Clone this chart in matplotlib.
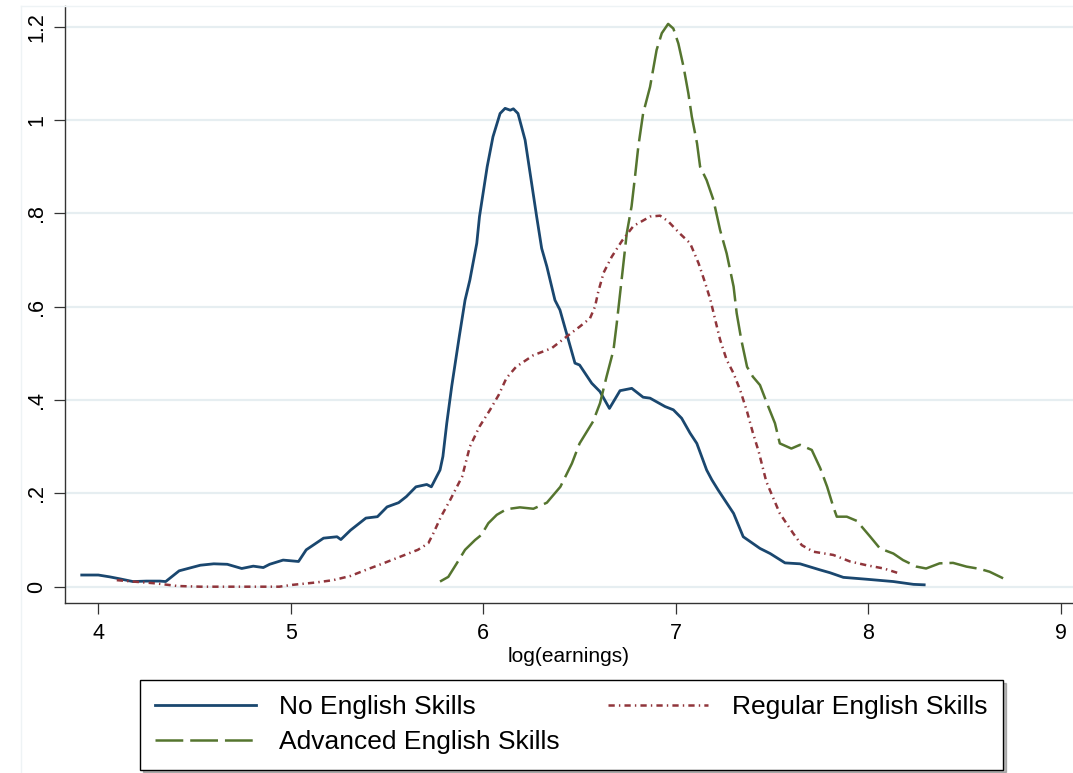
import matplotlib
matplotlib.use("Agg")
import matplotlib.pyplot as plt
from matplotlib.lines import Line2D

plt.rcParams['font.family'] = ['Liberation Sans', 'DejaVu Sans']
plt.rcParams['lines.scale_dashes'] = False

# ---- data ----
no_x = [3.914, 4.00, 4.06, 4.11, 4.18, 4.25, 4.32, 4.35, 4.42, 4.53, 4.60, 4.67, 4.745, 4.805,
        4.857, 4.89, 4.96, 5.04, 5.08, 5.17, 5.24, 5.26, 5.31, 5.39, 5.45, 5.50, 5.56, 5.60,
        5.65, 5.706, 5.73, 5.775, 5.79, 5.81, 5.836, 5.875, 5.905, 5.93, 5.966, 5.98, 6.02,
        6.05, 6.087, 6.113, 6.14, 6.156, 6.18, 6.217, 6.243, 6.277, 6.303, 6.33, 6.372, 6.398,
        6.476, 6.50, 6.563, 6.606, 6.655, 6.71, 6.771, 6.83, 6.866, 6.944, 6.987, 7.03, 7.074,
        7.109, 7.16, 7.187, 7.22, 7.30, 7.35, 7.437, 7.49, 7.567, 7.645, 7.749, 7.80, 7.87,
        7.99, 8.13, 8.234, 8.29]
no_y = [0.025, 0.025, 0.021, 0.017, 0.011, 0.012, 0.012, 0.011, 0.034, 0.046, 0.049, 0.048,
        0.039, 0.044, 0.041, 0.048, 0.057, 0.054, 0.079, 0.104, 0.107, 0.101, 0.121, 0.147,
        0.150, 0.171, 0.180, 0.193, 0.214, 0.219, 0.214, 0.250, 0.279, 0.350, 0.430, 0.536,
        0.614, 0.657, 0.736, 0.793, 0.900, 0.964, 1.014, 1.025, 1.021, 1.024, 1.014, 0.957,
        0.886, 0.793, 0.725, 0.686, 0.614, 0.593, 0.479, 0.475, 0.436, 0.418, 0.382, 0.420,
        0.425, 0.406, 0.404, 0.386, 0.379, 0.361, 0.329, 0.307, 0.250, 0.229, 0.207, 0.157,
        0.107, 0.082, 0.071, 0.051, 0.049, 0.036, 0.030, 0.020, 0.016, 0.011, 0.005, 0.004]

reg_x = [4.096, 4.18, 4.30, 4.41, 4.53, 4.70, 4.94, 5.01, 5.13, 5.22, 5.31, 5.39, 5.48, 5.567,
         5.66, 5.714, 5.74, 5.78, 5.828, 5.89, 5.93, 5.98, 6.035, 6.08, 6.12, 6.17, 6.26, 6.355,
         6.433, 6.50, 6.554, 6.58, 6.597, 6.625, 6.667, 6.72, 6.78, 6.866, 6.918, 6.96, 7.02,
         7.074, 7.118, 7.153, 7.18, 7.205, 7.23, 7.264, 7.30, 7.335, 7.37, 7.40, 7.43, 7.47,
         7.54, 7.61, 7.654, 7.714, 7.818, 7.905, 7.99, 8.08, 8.156]
reg_y = [0.014, 0.011, 0.007, 0.0015, 0.0, 0.0, 0.0, 0.004, 0.009, 0.014, 0.023, 0.036, 0.050,
         0.064, 0.079, 0.093, 0.114, 0.150, 0.186, 0.236, 0.300, 0.343, 0.379, 0.411, 0.447,
         0.471, 0.496, 0.511, 0.536, 0.557, 0.575, 0.600, 0.632, 0.673, 0.707, 0.741, 0.773,
         0.793, 0.795, 0.783, 0.757, 0.736, 0.693, 0.650, 0.614, 0.571, 0.529, 0.486, 0.457,
         0.420, 0.375, 0.330, 0.290, 0.225, 0.157, 0.114, 0.089, 0.075, 0.068, 0.054, 0.046,
         0.039, 0.029]

adv_x = [5.775, 5.818, 5.862, 5.905, 5.957, 5.99, 6.026, 6.07, 6.12, 6.19, 6.26, 6.33, 6.40,
         6.46, 6.50, 6.57, 6.606, 6.64, 6.676, 6.693, 6.72, 6.745, 6.77, 6.788, 6.805, 6.83,
         6.866, 6.90, 6.927, 6.96, 6.987, 7.013, 7.04, 7.065, 7.083, 7.11, 7.126, 7.16, 7.195,
         7.23, 7.264, 7.30, 7.316, 7.34, 7.37, 7.40, 7.437, 7.48, 7.515, 7.54, 7.60, 7.645,
         7.706, 7.75, 7.786, 7.818, 7.836, 7.888, 7.94, 8.01, 8.06, 8.13, 8.18, 8.25, 8.30,
         8.37, 8.44, 8.51, 8.58, 8.63, 8.70]
adv_y = [0.011, 0.021, 0.050, 0.079, 0.100, 0.111, 0.136, 0.154, 0.166, 0.170, 0.167, 0.180,
         0.214, 0.264, 0.307, 0.354, 0.393, 0.450, 0.507, 0.564, 0.664, 0.757, 0.815, 0.879,
         0.943, 1.014, 1.071, 1.150, 1.186, 1.206, 1.196, 1.164, 1.114, 1.057, 1.007, 0.950,
         0.900, 0.871, 0.829, 0.764, 0.714, 0.643, 0.586, 0.529, 0.471, 0.450, 0.432, 0.386,
         0.350, 0.307, 0.296, 0.304, 0.293, 0.254, 0.214, 0.171, 0.150, 0.150, 0.141, 0.107,
         0.082, 0.071, 0.057, 0.043, 0.039, 0.050, 0.051, 0.043, 0.038, 0.032, 0.018]

x_ticks = [4, 5, 6, 7, 8, 9]
y_ticks = [0, 0.2, 0.4, 0.6, 0.8, 1.0, 1.2]
y_tick_labels = ['0', '.2', '.4', '.6', '.8', '1', '1.2']
labels = ['No English Skills', 'Advanced English Skills', 'Regular English Skills']
x_label = 'log(earnings)'

BLUE = '#1a476f'
GREEN = '#55752f'
RED = '#90353b'

W, H = 1073, 773
fig = plt.figure(figsize=(W / 100, H / 100), dpi=100)
fig.patch.set_facecolor('white')

ax = fig.add_axes([65 / W, 1 - 603.3 / H, (W - 65) / W, (603.3 - 6) / H])
ax.set_xlim(3.827, 9.063)
ax.set_ylim(-0.0356, 1.2443)

ax.yaxis.grid(True, color='#e6eef1', lw=1.6)
ax.set_axisbelow(True)

l1, = ax.plot(no_x, no_y, color=BLUE, lw=2.0, solid_joinstyle='round')
l2, = ax.plot(adv_x, adv_y, color=GREEN, lw=1.8, dashes=(20, 5))
l3, = ax.plot(reg_x, reg_y, color=RED, lw=1.8, dashes=(4.5, 3.0, 1.0, 3.0))

for s in ['top', 'right']:
    ax.spines[s].set_visible(False)
for s in ['left', 'bottom']:
    ax.spines[s].set_color('#333333')
    ax.spines[s].set_linewidth(1.0)

ax.set_xticks(x_ticks)
ax.set_xticklabels([str(v) for v in x_ticks])
ax.set_yticks(y_ticks)
ax.set_yticklabels(y_tick_labels, rotation=90, va='center')
ax.tick_params(axis='both', length=8, width=0.9, color='#333333', labelsize=15.5)
ax.tick_params(axis='x', pad=6)
ax.tick_params(axis='y', pad=5)

ax.set_xlabel(x_label, fontsize=15, labelpad=2)

# faint outer region border
fig.add_artist(Line2D([21 / W, 21 / W], [0, 1 - 6 / H], transform=fig.transFigure,
                      color='#eef3f5', lw=1))
fig.add_artist(Line2D([21 / W, 1], [1 - 6 / H, 1 - 6 / H], transform=fig.transFigure,
                      color='#eef3f5', lw=1))

leg = fig.legend([l1, l2, l3], labels, ncol=2, loc='upper left',
                 bbox_to_anchor=(140 / W, 1 - 767 / H, 863 / W, 87 / H), mode='expand',
                 fontsize=19, frameon=True, fancybox=False, edgecolor='black',
                 handlelength=3.8, handletextpad=0.9, borderpad=0.58, labelspacing=0.42,
                 borderaxespad=0, shadow={'color': '#666666', 'alpha': 0.45})
leg.get_frame().set_linewidth(1.0)

fig.savefig('out.png', dpi=100, facecolor='white')
